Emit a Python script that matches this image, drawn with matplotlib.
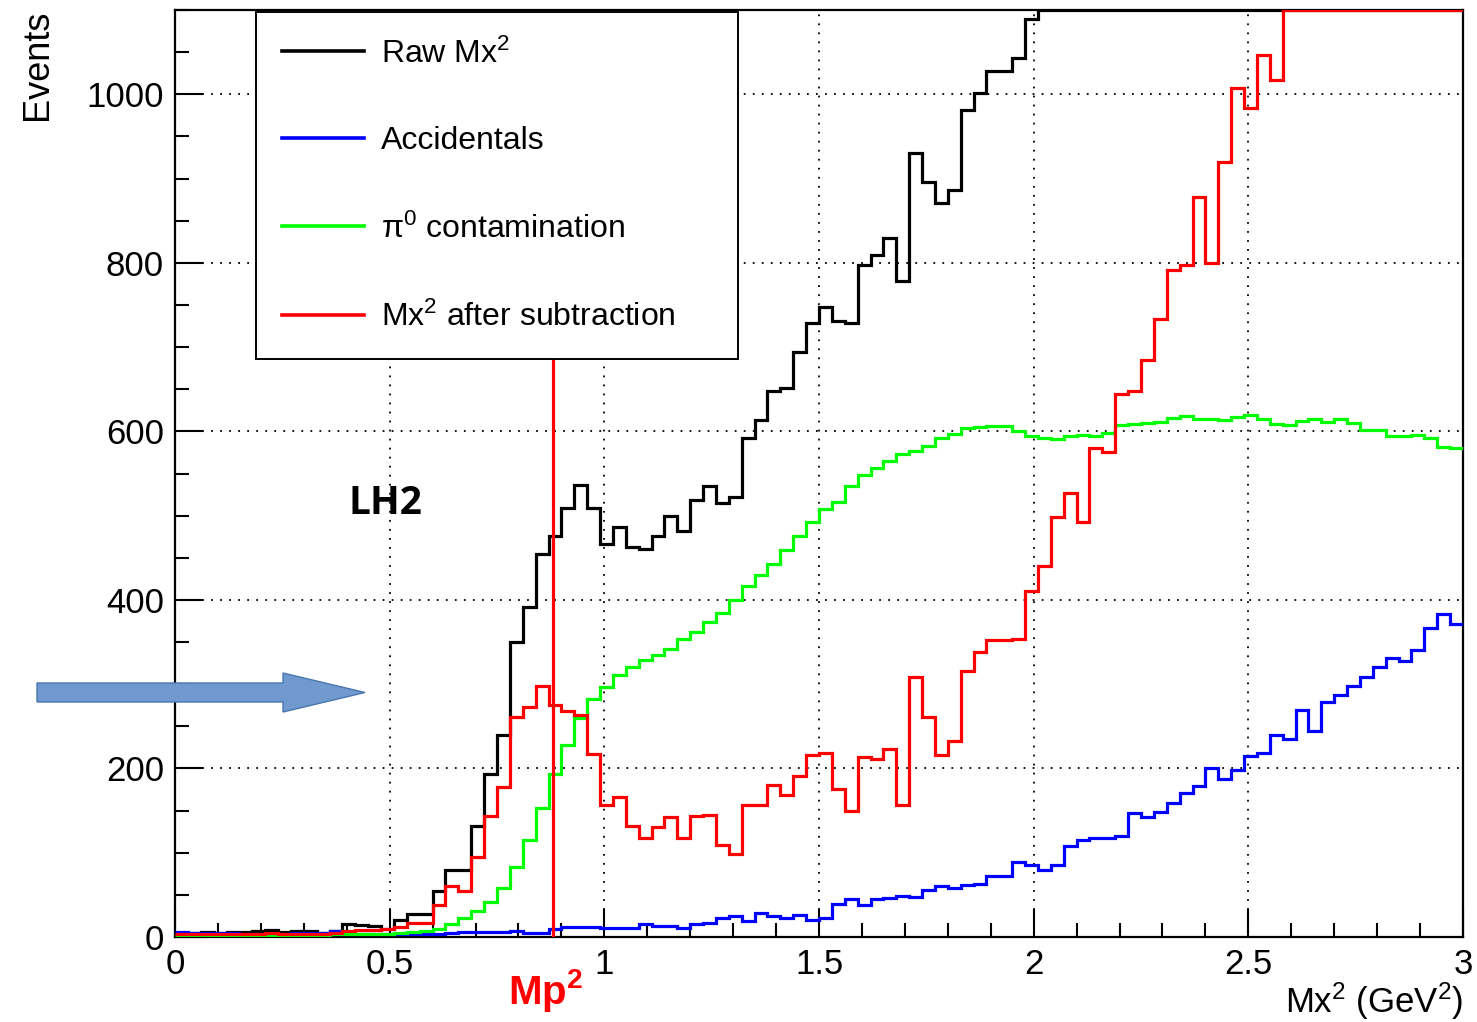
import numpy as np
import matplotlib
matplotlib.use('Agg')
import matplotlib.pyplot as plt
from matplotlib.patches import Polygon
from matplotlib.transforms import blended_transform_factory

plt.rcParams['font.family'] = ['Liberation Sans', 'DejaVu Sans']
plt.rcParams['mathtext.fontset'] = 'custom'
plt.rcParams['mathtext.rm'] = 'Liberation Sans'
plt.rcParams['mathtext.it'] = 'Liberation Sans'
plt.rcParams['mathtext.bf'] = 'Liberation Sans:bold'

# Mx^2 binning: 100 bins of 0.03 GeV^2 from 0 to 3
edges = np.linspace(0.0, 3.0, 101)

raw_mx2 = [
    5, 5, 6, 5, 6, 6, 7, 8, 6, 7,
    7, 5, 7, 15, 14, 13, 10, 20, 27, 27,
    54, 79, 79, 132, 193, 240, 350, 392, 454, 476,
    509, 536, 509, 466, 486, 463, 461, 476, 499, 482,
    518, 535, 515, 522, 592, 613, 648, 651, 694, 729,
    748, 731, 729, 798, 809, 830, 778, 930, 896, 871,
    886, 981, 1001, 1028, 1028, 1043, 1089, 1120, 1135, 1150,
    1170, 1190, 1205, 1230, 1250, 1270, 1300, 1330, 1350, 1380,
    1400, 1420, 1450, 1470, 1500, 1520, 1540, 1570, 1590, 1610,
    1630, 1650, 1670, 1690, 1700, 1710, 1720, 1730, 1740, 1750,
]

accidentals = [
    6, 5, 5, 5, 5, 4, 4, 4, 4, 5,
    5, 5, 7, 4, 4, 4, 4, 4, 4, 4,
    4, 5, 6, 6, 6, 6, 7, 5, 5, 9,
    12, 12, 12, 11, 11, 11, 15, 13, 13, 11,
    16, 17, 22, 25, 19, 29, 25, 23, 26, 20,
    22, 39, 45, 38, 45, 46, 49, 47, 56, 60,
    58, 62, 63, 72, 72, 89, 85, 80, 85, 108,
    115, 118, 118, 120, 147, 142, 148, 159, 171, 179,
    201, 187, 198, 215, 218, 240, 235, 269, 244, 279,
    287, 298, 308, 320, 331, 327, 340, 367, 383, 372,
]

pi0_contamination = [
    1, 1, 1, 1, 1, 1, 1, 2, 2, 2,
    2, 2, 3, 3, 3, 4, 4, 5, 6, 7,
    9, 15, 22, 31, 42, 58, 83, 115, 153, 194,
    228, 260, 282, 297, 311, 320, 329, 335, 342, 354,
    362, 374, 384, 400, 416, 429, 443, 459, 476, 493,
    508, 516, 535, 548, 556, 565, 573, 577, 583, 592,
    597, 604, 605, 606, 606, 601, 594, 592, 591, 594,
    596, 594, 598, 608, 609, 610, 611, 616, 618, 615,
    615, 613, 617, 619, 615, 609, 607, 612, 615, 611,
    615, 610, 602, 602, 595, 594, 596, 592, 581, 580,
]

after_subtraction = [
    4, 4, 3, 4, 4, 4, 3, 5, 4, 3,
    4, 3, 5, 7, 8, 8, 9, 12, 17, 17,
    38, 60, 54, 95, 144, 178, 261, 273, 298, 275,
    268, 263, 217, 157, 166, 132, 118, 130, 142, 117,
    144, 145, 109, 99, 157, 157, 180, 169, 191, 216,
    218, 176, 149, 213, 211, 223, 157, 309, 261, 216,
    232, 316, 338, 352, 353, 354, 411, 440, 498, 527,
    493, 580, 575, 644, 648, 685, 733, 792, 797, 878,
    800, 920, 1008, 984, 1047, 1017, 1130, 1160, 1190, 1210,
    1240, 1260, 1290, 1310, 1330, 1350, 1370, 1380, 1400, 1410,
]

mp2 = 0.938272 ** 2
ymax = 1100

fig = plt.figure(figsize=(14.77, 10.22), dpi=100)
ax = fig.add_axes([175 / 1477, 1 - 937 / 1022, 1288 / 1477, 927 / 1022])

ax.set_xlim(0, 3)
ax.set_ylim(0, ymax)

# histograms drawn as outlines, clipped at the frame top like ROOT does
series = [
    (raw_mx2, 'black', 'Raw Mx$^2$'),
    (accidentals, '#0000ff', 'Accidentals'),
    (pi0_contamination, '#00ff00', 'π$^0$ contamination'),
    (after_subtraction, '#ff0000', 'Mx$^2$ after subtraction'),
]
for vals, col, lab in series:
    shown = np.minimum(np.asarray(vals, dtype=float), ymax)
    ax.stairs(shown, edges, baseline=None, color=col, lw=2.3, label=lab, zorder=3)

# proton mass squared marker, runs up behind the legend
ax.axvline(mp2, ymax=0.7, color='#ff0000', lw=2.3, zorder=4)

# axes cosmetics
ax.set_xticks([0, 0.5, 1, 1.5, 2, 2.5, 3])
ax.set_xticklabels(['0', '0.5', '1', '1.5', '2', '2.5', '3'])
ax.set_xticks(np.arange(0, 3.001, 0.1), minor=True)
ax.set_yticks([0, 200, 400, 600, 800, 1000])
ax.set_yticks(np.arange(0, 1101, 50), minor=True)
ax.tick_params(which='both', direction='in', top=False, right=False,
               width=1.5, labelsize=25)
ax.tick_params(which='major', length=20)
ax.tick_params(which='minor', length=10)
ax.tick_params(axis='x', pad=8)
ax.tick_params(axis='y', pad=8)
for sp in ax.spines.values():
    sp.set_linewidth(1.6)

ax.grid(True, which='major', color='black', linestyle=(0, (1, 4)), lw=1.3)
ax.set_axisbelow(True)

ax.set_ylabel('Events', fontsize=26, loc='top')
ax.yaxis.set_label_coords(-0.093, 1.0)
ax.set_xlabel('Mx$^2$ (GeV$^2$)', fontsize=25, loc='right')
ax.xaxis.set_label_coords(1.0, -0.047)

leg = ax.legend(loc='upper left', bbox_to_anchor=(0.0629, 0.6268, 0.3742, 0.371),
                mode='expand', borderaxespad=0, fontsize=23, frameon=True,
                fancybox=False, edgecolor='black', framealpha=1,
                handlelength=2.55, handletextpad=0.55, borderpad=0.82,
                labelspacing=1.78)
leg.get_frame().set_linewidth(1.4)
leg.set_zorder(5)
for ln in leg.get_lines():
    ln.set_linewidth(2.6)

ax.text(0.49, 514, 'LH2', fontsize=28, fontweight='bold', family=['Open Sans', 'DejaVu Sans'],
        ha='center', va='center', zorder=6)

tr = blended_transform_factory(ax.transData, ax.transAxes)
ax.text(0.862, -0.058, 'Mp$^\\mathbf{2}$', color='#ff0000', fontsize=29,
        fontweight='bold', transform=tr, ha='center', va='center', clip_on=False)

# block arrow pointing at the threshold region
W, H = 1477, 1022
pts = [(37, 683), (283, 683), (283, 673), (365, 692.5), (283, 712), (283, 702), (37, 702)]
arrow = Polygon([(x / W, 1 - y / H) for x, y in pts], closed=True,
                transform=fig.transFigure, facecolor='#7099cf', edgecolor='#4a76b0',
                lw=1.0, zorder=10)
fig.add_artist(arrow)

fig.savefig('out.png', dpi=100)
